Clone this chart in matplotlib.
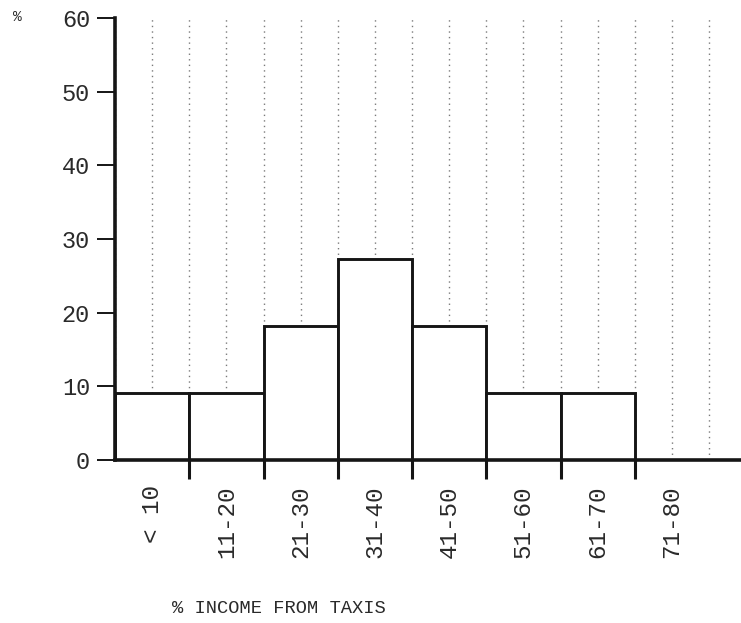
import matplotlib
matplotlib.use("Agg")
import matplotlib.pyplot as plt
from matplotlib.ticker import MultipleLocator, FixedLocator
from matplotlib.transforms import offset_copy

# Share of respondents (%) by share of income earned from taxis
categories = ["< 10", "11-20", "21-30", "31-40", "41-50", "51-60", "61-70", "71-80"]
bin_left = [0, 10, 20, 30, 40, 50, 60, 70]
bin_width = 10
percent = [9.1, 9.1, 18.2, 27.3, 18.2, 9.1, 9.1, 0.0]
y_ticks = [0, 10, 20, 30, 40, 50, 60]

FONT = ["Liberation Mono", "DejaVu Sans Mono"]
INK = "#151515"
TEXT = "#2a2a2a"

fig = plt.figure(figsize=(7.41, 6.23), dpi=100)
ax = fig.add_axes([0.1552, 0.2616, 0.8448, 0.7095])

ax.bar(bin_left, percent, width=bin_width, align="edge",
       facecolor="white", edgecolor=INK, linewidth=2.1, zorder=3)

ax.set_xlim(0, 84.3)
ax.set_ylim(0, 60)

for side in ("top", "right"):
    ax.spines[side].set_visible(False)
for side in ("left", "bottom"):
    ax.spines[side].set_linewidth(2.6)
    ax.spines[side].set_color(INK)
    ax.spines[side].set_zorder(4)

# y axis: ticks every 10 %
ax.yaxis.set_major_locator(FixedLocator(y_ticks))
ax.set_yticklabels([str(v) for v in y_ticks], fontfamily=FONT,
                   fontsize=17, color=TEXT)
ax.tick_params(axis="y", direction="out", length=13, width=1.4,
               color=INK, pad=5)

# x axis: ticks at the interior bin edges, labels drawn separately
edges = bin_left[1:]
ax.xaxis.set_major_locator(FixedLocator(edges))
ax.set_xticklabels([])
ax.tick_params(axis="x", direction="out", length=13.5, width=2.2,
               color=INK)

# dotted rules at every half bin, like ruled graph paper
ax.xaxis.set_minor_locator(MultipleLocator(5))
ax.tick_params(axis="x", which="minor", length=0)
ax.grid(axis="x", which="both", color="#7a7a7a", linestyle=(0, (1, 3)),
        linewidth=1.0, zorder=0)
ax.set_axisbelow(True)

label_tf = offset_copy(ax.get_xaxis_transform(), fig=fig, x=0, y=-18,
                       units="points")
for left, name in zip(bin_left, categories):
    ax.text(left + bin_width / 2, 0, name, transform=label_tf,
            rotation=90, ha="center", va="top",
            fontfamily=FONT, fontsize=17.5, color=TEXT)

fig.text(0.0175, 0.972, "%", fontfamily=FONT, fontsize=10.5,
         ha="left", va="center", color=TEXT)
fig.text(0.232, 0.024, "% INCOME FROM TAXIS", fontfamily=FONT,
         fontsize=13.5, ha="left", va="center", color=TEXT)

fig.savefig("out.png", dpi=100)
